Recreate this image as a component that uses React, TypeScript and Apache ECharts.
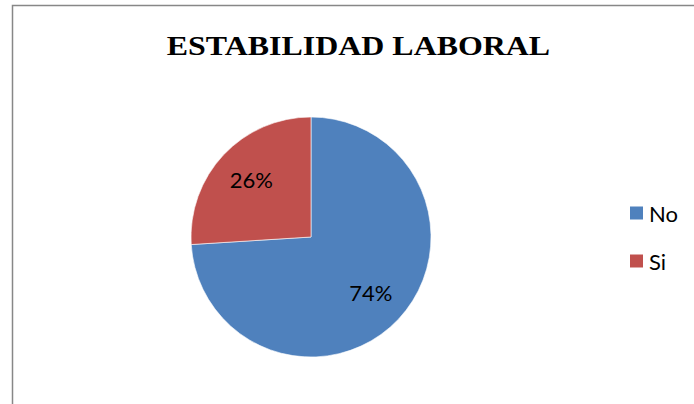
import React, { useEffect, useRef } from "react";
import * as echarts from "echarts";

const titleText = "ESTABILIDAD LABORAL";
const categories = ["No", "Si"];
const values = [74, 26];
const colors = ["#4F81BD", "#C0504D"];

export default function App() {
  const ref = useRef<HTMLDivElement>(null);
  useEffect(() => {
    if (!ref.current) return;
    const chart = echarts.init(ref.current, undefined, { renderer: "svg" });
    const data = categories.map((name, i) => ({ name, value: values[i] }));
    const total = values.reduce((a, b) => a + b, 0);
    chart.setOption({
      animation: false,
      backgroundColor: "#ffffff",
      color: colors,
      graphic: [
        {
          type: "rect",
          shape: { x: 12.5, y: 5.5, width: 720, height: 440 },
          style: { fill: "none", stroke: "#878787", lineWidth: 1.5 },
          silent: true,
        },
        {
          type: "text",
          x: 358.5,
          y: 45,
          scaleX: 1.14,
          style: {
            text: titleText,
            fill: "#000000",
            font: 'bold 28px "Liberation Serif", "Times New Roman", serif',
            align: "center",
            verticalAlign: "middle",
          },
        },
      ],
      legend: {
        data: categories,
        orient: "vertical",
        left: 623,
        top: 197,
        itemWidth: 15,
        itemHeight: 15,
        itemGap: 26,
        icon: "rect",
        selectedMode: false,
        textStyle: {
          fontFamily: "Lato, 'Open Sans', sans-serif",
          fontSize: 22,
          lineHeight: 22,
          color: "#000000",
        },
      },
      series: [
        {
          type: "pie",
          center: [311, 237],
          radius: [0, 120],
          startAngle: 90,
          clockwise: true,
          data,
          label: { show: false },
          labelLine: { show: false },
          itemStyle: { borderColor: "#ffffff", borderWidth: 0.6 },
          emphasis: { disabled: true },
          silent: true,
        },
        {
          type: "pie",
          center: [311, 236],
          radius: [38, 120],
          startAngle: 90,
          clockwise: true,
          data,
          itemStyle: { color: "transparent", borderWidth: 0 },
          label: {
            show: true,
            position: "inside",
            formatter: (p: any) => Math.round((p.value / total) * 100) + "%",
            fontFamily: "Lato, 'Open Sans', sans-serif",
            fontSize: 22,
            color: "#000000",
          },
          labelLine: { show: false },
          emphasis: { disabled: true },
          silent: true,
        },
      ],
    });
    return () => chart.dispose();
  }, []);
  return (
    <div
      ref={ref}
      style={{ position: "fixed", left: 0, top: 0, width: 694, height: 404 }}
    />
  );
}
